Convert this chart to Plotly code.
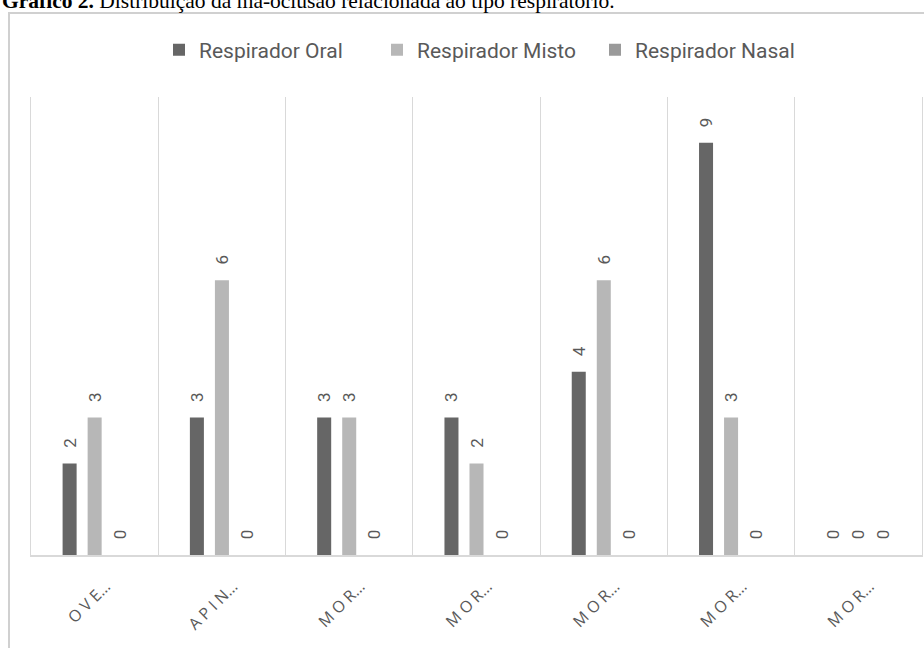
import plotly.graph_objects as go

# Categories (truncated labels as shown on the axis)
categories = ["O V E…", "A P I N…", "M O R…", "M O R…", "M O R…", "M O R…", "M O R…"]
cat_ids = ["c1", "c2", "c3", "c4", "c5", "c6", "c7"]

series_names = ["Respirador Oral", "Respirador Misto", "Respirador Nasal"]
oral = [2, 3, 3, 3, 4, 9, 0]
misto = [3, 6, 3, 2, 6, 3, 0]
nasal = [0, 0, 0, 0, 0, 0, 0]
colors = ["#666666", "#b7b7b7", "#9a9a9a"]

W, H = 924, 648
L, R, T, B = 31, 2, 97, 93
pw, ph = W - L - R, H - T - B


def px_x(x):
    return (x - L) / pw


def px_y(y):
    return (H - B - y) / ph


# non-breaking spaces lift the rotated value labels a little off the bar tops
PAD = "\u00a0\u00a0\u00a0"

fig = go.Figure()
for name, vals, col in zip(series_names, [oral, misto, nasal], colors):
    fig.add_trace(go.Bar(
        name=name, x=cat_ids, y=vals, marker_color=col, marker_line_width=0,
        text=[PAD + str(v) for v in vals], textposition="outside", textangle=-90,
        constraintext="none",
        textfont=dict(family="Roboto, sans-serif", size=17, color="#595959"),
        cliponaxis=False,
    ))

fig.update_layout(
    width=W, height=H,
    margin=dict(l=L, r=R, t=T, b=B),
    paper_bgcolor="white", plot_bgcolor="white",
    barmode="group", bargap=0.41, bargroupgap=0.44,
    showlegend=True,
    legend=dict(
        orientation="h", x=px_x(486), xanchor="center", y=px_y(50), yanchor="middle",
        font=dict(family="Roboto, sans-serif", size=21, color="#595959"),
        entrywidth=173, itemwidth=30,
    ),
    xaxis=dict(
        type="category", tickmode="array", tickvals=cat_ids, ticktext=categories,
        tickangle=-45, tickson="boundaries", showgrid=True, gridcolor="#d9d9d9", gridwidth=1,
        showline=True, linecolor="#d9d9d9", linewidth=1.5, ticks="",
        ticklabelshift=11, ticklabelstandoff=14,
        tickfont=dict(family="Open Sans, sans-serif", size=16, color="#595959"),
        range=[-0.5, 6.5], fixedrange=True,
    ),
    yaxis=dict(
        range=[0, 10], showgrid=False, showticklabels=False, zeroline=False,
        showline=True, linecolor="#d9d9d9", linewidth=1, mirror=True, ticks="",
    ),
    shapes=[dict(
        type="rect", xref="paper", yref="paper",
        x0=px_x(9), x1=px_x(935), y0=px_y(660), y1=px_y(13),
        line=dict(color="#d0d0d0", width=2), fillcolor="rgba(0,0,0,0)", layer="below",
    )],
    annotations=[dict(
        text="<b>Gráfico 2.</b> Distribuição da má-oclusão relacionada ao tipo respiratório.",
        xref="paper", yref="paper", x=px_x(0), y=px_y(1), xanchor="left", yanchor="middle",
        showarrow=False, font=dict(family="Liberation Serif, serif", size=21.5, color="#000000"),
    )],
)

fig.write_html("out.html")
